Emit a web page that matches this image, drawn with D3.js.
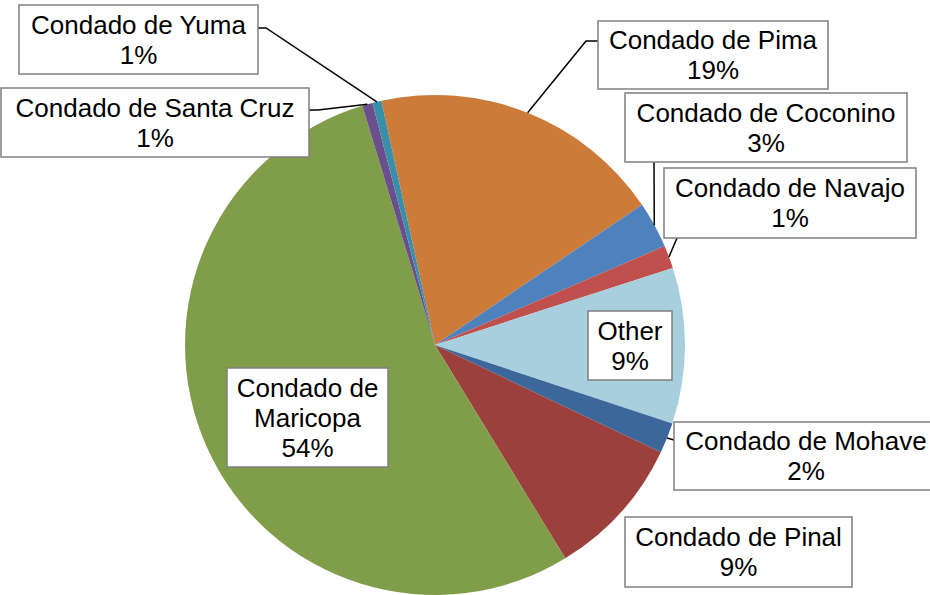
<!DOCTYPE html>
<html>
<head>
<meta charset="utf-8">
<script src="https://cdn.jsdelivr.net/npm/d3@7"></script>
<style>
  body { margin: 0; background: #fff; }
  svg { display: block; }
  .lbl text { font-family: "Liberation Sans", Arial, sans-serif; font-size: 26px; fill: #000; }
</style>
</head>
<body>
<svg id="chart"></svg>
<script>
// данные (по часовой стрелке, начиная с Pima)
const counties = ["Condado de Pima", "Condado de Coconino", "Condado de Navajo", "Other",
    "Condado de Mohave", "Condado de Pinal", "Condado de Maricopa", "Condado de Santa Cruz", "Condado de Yuma"];
const shares = [18.97, 3.0, 1.49, 10.07, 1.97, 9.22, 54.03, 0.67, 0.58];
const pctLabels = ["19%", "3%", "1%", "9%", "2%", "9%", "54%", "1%", "1%"];
const sliceColors = ["#CD7B38", "#4F81BD", "#C0504D", "#A8CFDD", "#3C679A", "#9B403D", "#809D49", "#6A4F8C", "#3B8EA8"];

// размещение подписей: рамка [x0, y0, x1, y1], строки текста, выноска
const labelLayout = [
    { box: [598, 21, 828, 89], lines: ["Condado de Pima"], leader: [[598, 41], [586, 41]] },
    { box: [625, 93, 907, 162], lines: ["Condado de Coconino"], leader: [[654, 162]] },
    { box: [664, 168, 916, 238], lines: ["Condado de Navajo"], leader: [[677, 238]] },
    { box: [588, 311, 672, 380], lines: ["Other"], leader: null },
    { box: [674, 422, 940, 490], lines: ["Condado de Mohave"], leader: [[674, 440]] },
    { box: [625, 517, 852, 587], lines: ["Condado de Pinal"], leader: null },
    { box: [227, 368, 388, 467], lines: ["Condado de", "Maricopa"], leader: null },
    { box: [1, 88, 309, 157], lines: ["Condado de Santa Cruz"], leader: [[309, 110], [318, 110]] },
    { box: [19, 5, 258, 74], lines: ["Condado de Yuma"], leader: [[258, 28], [266, 28]] }
];

let width = 930;
let height = 595;
let cx = 435;
let cy = 345;
let radius = 250;
let startDeg = -12.4;

let svg = d3.select("#chart")
    .attr("width", width)
    .attr("height", height);

let data = counties.map((c, i) => ({ name: c, value: shares[i], pct: pctLabels[i], color: sliceColors[i] }));

let pie = d3.pie()
    .value(d => d.value)
    .sort(null)
    .startAngle(startDeg * Math.PI / 180)
    .endAngle((startDeg + 360) * Math.PI / 180);

let arc = d3.arc().innerRadius(0).outerRadius(radius);
let edgeArc = d3.arc().innerRadius(radius).outerRadius(radius);

let arcs = pie(data);

let g = svg.append("g").attr("transform", `translate(${cx}, ${cy})`);

g.selectAll("path")
    .data(arcs)
    .enter()
    .append("path")
    .attr("d", arc)
    .attr("fill", d => d.data.color);

// выноски
arcs.forEach((a, i) => {
    let lay = labelLayout[i];
    if (!lay.leader) return;
    let p = edgeArc.centroid(a);
    let pts = lay.leader.concat([[p[0] + cx, p[1] + cy]]);
    svg.append("path")
        .attr("d", d3.line()(pts))
        .attr("fill", "none")
        .attr("stroke", "#000")
        .attr("stroke-width", 1.5);
});

// подписи в рамках
arcs.forEach((a, i) => {
    let lay = labelLayout[i];
    let [x0, y0, x1, y1] = lay.box;
    let lines = lay.lines.concat([a.data.pct]);
    let lg = svg.append("g").attr("class", "lbl");
    lg.append("rect")
        .attr("x", x0).attr("y", y0)
        .attr("width", x1 - x0).attr("height", y1 - y0)
        .attr("fill", "#fff")
        .attr("stroke", "#7F7F7F")
        .attr("stroke-width", 1.5);
    let midY = (y0 + y1) / 2;
    let lineH = 30;
    let tx = (x0 + x1) / 2;
    if (lay.lines[0] === "Condado de Mohave") tx = 806;
    lines.forEach((t, k) => {
        lg.append("text")
            .attr("x", tx)
            .attr("y", midY + (k - (lines.length - 1) / 2) * lineH + 9)
            .attr("text-anchor", "middle")
            .text(t);
    });
});
</script>
</body>
</html>
